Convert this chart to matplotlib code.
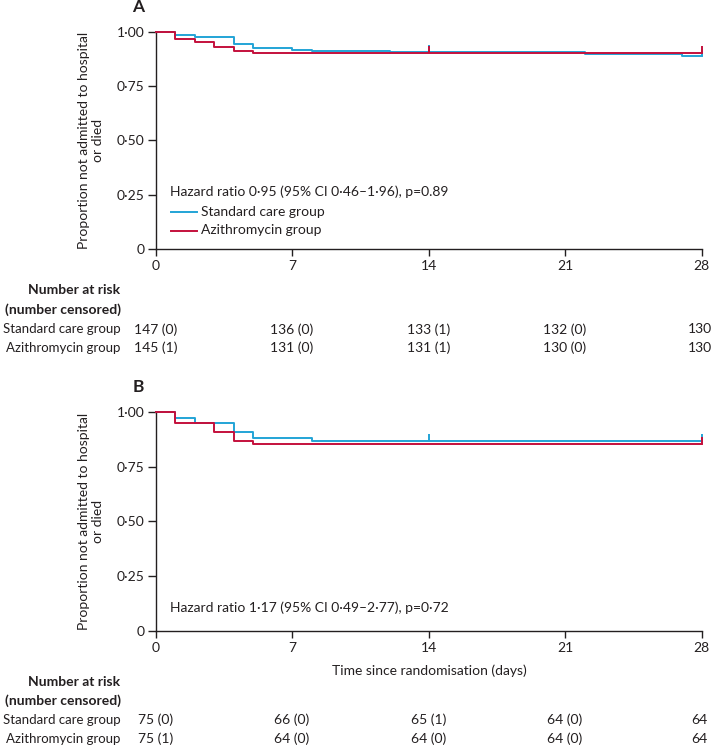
import matplotlib
matplotlib.use("Agg")
import matplotlib.pyplot as plt
import matplotlib.transforms as mtransforms
import matplotlib.path as mpath

plt.rcParams['font.family'] = ['Lato', 'DejaVu Sans']

# ---------------- data ----------------
# Panel A
a_std_t = [0, 1, 2, 4, 5, 7, 8, 12, 22, 27, 28]
a_std_s = [1.0, 0.988, 0.976, 0.947, 0.925, 0.917, 0.911, 0.906, 0.899, 0.891, 0.891]
a_azi_t = [0, 1, 2, 3, 4, 5, 28]
a_azi_s = [1.0, 0.966, 0.953, 0.931, 0.911, 0.905, 0.905]
a_std_cens_t = [14, 28]
a_std_cens_s = [0.906, 0.891]
a_azi_cens_t = [14, 28]
a_azi_cens_s = [0.905, 0.905]

# Panel B
b_std_t = [0, 1, 2, 4, 5, 8, 28]
b_std_s = [1.0, 0.974, 0.948, 0.908, 0.881, 0.868, 0.868]
b_azi_t = [0, 1, 3, 4, 5, 28]
b_azi_s = [1.0, 0.948, 0.908, 0.868, 0.853, 0.853]
b_std_cens_t = [14, 28]
b_std_cens_s = [0.868, 0.868]
b_azi_cens_t = [28]
b_azi_cens_s = [0.853]

# Number at risk
risk_days = [0, 7, 14, 21, 28]
a_std_risk = [147, 136, 133, 132, 130]
a_std_cens = [0, 0, 1, 0, None]
a_azi_risk = [145, 131, 131, 130, 130]
a_azi_cens = [1, 0, 1, 0, None]
b_std_risk = [75, 66, 65, 64, 64]
b_std_cens = [0, 0, 1, 0, None]
b_azi_risk = [75, 64, 64, 64, 64]
b_azi_cens = [1, 0, 0, 0, None]

x_ticks = [0, 7, 14, 21, 28]
y_ticks = [0, 0.25, 0.5, 0.75, 1.0]
y_ticklabels = ['0', '0·25', '0·50', '0·75', '1·00']

group_labels = ['Standard care group', 'Azithromycin group']
hr_a = 'Hazard ratio 0·95 (95% CI 0·46–1·96), p=0.89'
hr_b = 'Hazard ratio 1·17 (95% CI 0·49–2·77), p=0·72'

BLUE = '#22a4d6'
RED = '#c4103c'
INK = '#231f20'
FS = 10

W, H = 712, 747
fig = plt.figure(figsize=(W / 100, H / 100), dpi=100)

CENS_MARK = mpath.Path([[0, 0], [0, 1]])


def fx(px):
    return px / W


def fy(py):
    return 1 - py / H


def make_axes(top_px, bottom_px):
    left, right = 155.5, 701.5
    ax = fig.add_axes([fx(left), fy(bottom_px), (right - left) / W, (bottom_px - top_px) / H])
    ax.set_xlim(0, 28)
    ax.set_ylim(0, 1.0)
    for s in ['top', 'right']:
        ax.spines[s].set_visible(False)
    for s in ['left', 'bottom']:
        ax.spines[s].set_color(INK)
        ax.spines[s].set_linewidth(1.0)
    ax.set_xticks(x_ticks)
    ax.set_xticklabels([str(t) for t in x_ticks])
    ax.set_yticks(y_ticks)
    ax.set_yticklabels(y_ticklabels)
    ax.tick_params(axis='y', direction='out', length=6, width=1.0, color=INK,
                   labelsize=FS, labelcolor=INK, pad=2)
    ax.tick_params(axis='x', direction='out', length=5, width=1.0, color=INK,
                   labelsize=FS, labelcolor=INK, pad=3)
    return ax


def draw_curves(ax, std_t, std_s, azi_t, azi_s, sct, scs, act, acs):
    ax.plot(std_t, std_s, drawstyle='steps-post', color=BLUE, lw=1.4, clip_on=False, zorder=3,
            label=group_labels[0])
    ax.plot(sct, scs, linestyle='none', marker=CENS_MARK, markersize=10, mew=1.4, color=BLUE,
            clip_on=False, zorder=3)
    ax.plot(azi_t, azi_s, drawstyle='steps-post', color=RED, lw=1.4, clip_on=False, zorder=4,
            label=group_labels[1])
    ax.plot(act, acs, linestyle='none', marker=CENS_MARK, markersize=10, mew=1.4, color=RED,
            clip_on=False, zorder=4)


def risk_table(ax, rows_y, std_risk, std_cens, azi_risk, azi_cens):
    trans = mtransforms.blended_transform_factory(ax.transData, fig.transFigure)
    fig.text(fx(120.5), fy(rows_y[0]), 'Number at risk', ha='right', va='center',
             fontsize=FS, fontweight='bold', color=INK)
    fig.text(fx(120.5), fy(rows_y[1]), '(number censored)', ha='right', va='center',
             fontsize=FS, fontweight='bold', color=INK)
    for lab, risk, cens, yy in [(group_labels[0], std_risk, std_cens, rows_y[2]),
                                (group_labels[1], azi_risk, azi_cens, rows_y[3])]:
        fig.text(fx(120.5), fy(yy), lab, ha='right', va='center', fontsize=9.5, color=INK)
        for d, r, c in zip(risk_days, risk, cens):
            if c is not None:
                ax.text(d, fy(yy), f'{r} ({c})', transform=trans, ha='center', va='center',
                        fontsize=FS, color=INK, clip_on=False)
            else:
                tr = trans + mtransforms.ScaledTranslation(-2 / 100, 0, fig.dpi_scale_trans)
                ax.text(d, fy(yy), f'{r}', transform=tr, ha='center', va='center',
                        fontsize=FS, color=INK, clip_on=False)


# ---------------- Panel A ----------------
axA = make_axes(32, 249)
draw_curves(axA, a_std_t, a_std_s, a_azi_t, a_azi_s,
            a_std_cens_t, a_std_cens_s, a_azi_cens_t, a_azi_cens_s)
fig.text(fx(138.5), fy(7.5), 'A', ha='center', va='center', fontsize=12.5,
         fontweight='bold', color=INK)
fig.text(fx(170), fy(192), hr_a, ha='left', va='center', fontsize=FS, color=INK)
# legend (manual)
for i, (col, lab) in enumerate(zip([BLUE, RED], group_labels)):
    yy = [211.7, 230.5][i]
    fig.add_artist(plt.Line2D([fx(171), fx(197)], [fy(yy), fy(yy)], color=col, lw=1.4))
    fig.text(fx(201), fy(yy), lab, ha='left', va='center', fontsize=FS, color=INK)
risk_table(axA, [290, 309.3, 329.3, 347.7], a_std_risk, a_std_cens, a_azi_risk, a_azi_cens)

# ---------------- Panel B ----------------
axB = make_axes(412, 630.5)
draw_curves(axB, b_std_t, b_std_s, b_azi_t, b_azi_s,
            b_std_cens_t, b_std_cens_s, b_azi_cens_t, b_azi_cens_s)
fig.text(fx(138.5), fy(387), 'B', ha='center', va='center', fontsize=12.5,
         fontweight='bold', color=INK)
fig.text(fx(170), fy(608), hr_b, ha='left', va='center', fontsize=FS, color=INK)
fig.text(fx(429), fy(670.7), 'Time since randomisation (days)', ha='center', va='center',
         fontsize=FS, color=INK)
risk_table(axB, [681.7, 701, 720, 738.7], b_std_risk, b_std_cens, b_azi_risk, b_azi_cens)

# y labels
ylab = 'Proportion not admitted to hospital\nor died'
for yc in [140.5, 521]:
    fig.text(fx(91), fy(yc), ylab, rotation=90, ha='center', va='center',
             multialignment='center', fontsize=FS, color=INK, linespacing=1.3)

fig.savefig('out.png', dpi=100, facecolor='white')
